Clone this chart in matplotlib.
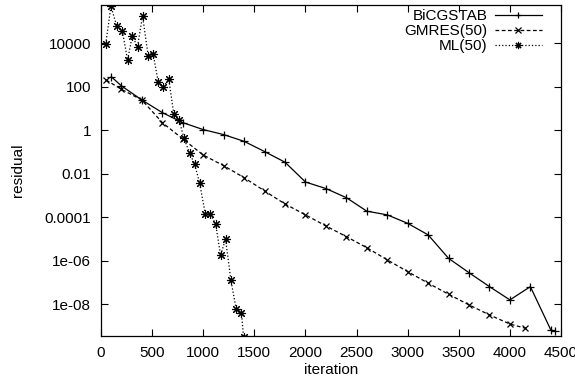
import matplotlib
matplotlib.use("Agg")
import matplotlib.pyplot as plt
import numpy as np

plt.rcParams['font.family'] = ['Liberation Sans', 'DejaVu Sans']

# BiCGSTAB residual history
bicg_it = [100, 200, 400, 600, 800, 1000, 1200, 1400, 1600, 1800, 2000, 2200,
           2400, 2600, 2800, 3000, 3200, 3400, 3600, 3800, 4000, 4200, 4400, 4440]
bicg_log = [2.46, 2.04, 1.39, 0.81, 0.35, 0.03, -0.20, -0.51, -0.98, -1.47, -2.38, -2.68,
            -3.10, -3.72, -3.89, -4.28, -4.81, -5.89, -6.55, -7.19, -7.80, -7.19, -9.18, -9.23]

# GMRES(50)
gm_it = [50, 200, 400, 600, 800, 1000, 1200, 1400, 1600, 1800, 2000, 2200,
         2400, 2600, 2800, 3000, 3200, 3400, 3600, 3800, 4000, 4150]
gm_log = [2.31, 1.88, 1.39, 0.35, -0.40, -1.14, -1.63, -2.18, -2.79, -3.39, -3.89, -4.40,
          -4.89, -5.40, -5.96, -6.50, -7.03, -7.54, -8.03, -8.49, -8.91, -9.10]

# ML(50)
ml_it = [46, 97, 153, 208, 260, 305, 357, 406, 461, 510, 559, 607, 663, 712, 763,
         812, 867, 916, 965, 1020, 1069, 1121, 1170, 1218, 1270, 1322, 1374, 1394]
ml_log = [3.97, 5.70, 4.80, 4.57, 3.23, 4.34, 3.84, 5.26, 3.43, 3.51, 2.23, 1.98, 2.34, 0.74, 0.47,
          -0.37, -1.06, -1.56, -2.44, -3.85, -3.85, -4.31, -5.75, -5.00, -6.88, -8.22, -8.39, -9.49]

yticks = [1e-8, 1e-6, 1e-4, 1e-2, 1, 100, 10000]
ytick_labels = ["1e-08", "1e-06", "0.0001", "0.01", "1", "100", "10000"]
xticks = [0, 500, 1000, 1500, 2000, 2500, 3000, 3500, 4000, 4500]

fig = plt.figure(figsize=(5.75, 3.83), dpi=100)
ax = fig.add_axes([0.1757, 0.1227, 0.8000, 0.8643])

ax.plot(bicg_it, 10 ** np.array(bicg_log), "-", color="black", lw=0.9,
        marker="+", ms=6, mew=0.9, label="BiCGSTAB")
ax.plot(gm_it, 10 ** np.array(gm_log), "--", color="black", lw=0.9, dashes=(3, 2),
        marker="x", ms=5, mew=0.9, label="GMRES(50)")
ax.plot(ml_it, 10 ** np.array(ml_log), ":", color="black", lw=0.9,
        marker=(8, 2, 0), ms=6.5, mew=0.8, label="ML(50)")

ax.set_yscale("log")
ax.set_xlim(0, 4500)
ax.set_ylim(10 ** -9.46, 10 ** 5.76)
ax.set_xticks(xticks)
ax.set_xticklabels([str(t) for t in xticks])
ax.set_yticks(yticks)
ax.set_yticklabels(ytick_labels)
ax.minorticks_off()
ax.tick_params(direction="in", length=5, width=0.8, top=True, right=True,
               labelsize=11, pad=7, colors="black")
for s in ax.spines.values():
    s.set_linewidth(0.9)

ax.set_xlabel("iteration", fontsize=11, labelpad=2)
ax.set_ylabel("residual", fontsize=11, labelpad=14)

leg = ax.legend(loc="upper right", frameon=False, fontsize=11, markerfirst=False,
                handlelength=3.1, labelspacing=0.08, borderpad=0, borderaxespad=0,
                handletextpad=0.45, markerscale=0.8,
                bbox_to_anchor=(542 / 575, 374 / 383), bbox_transform=fig.transFigure)
for t in leg.get_texts():
    t.set_ha("right")

fig.savefig("out.png", dpi=100)
plt.close()
